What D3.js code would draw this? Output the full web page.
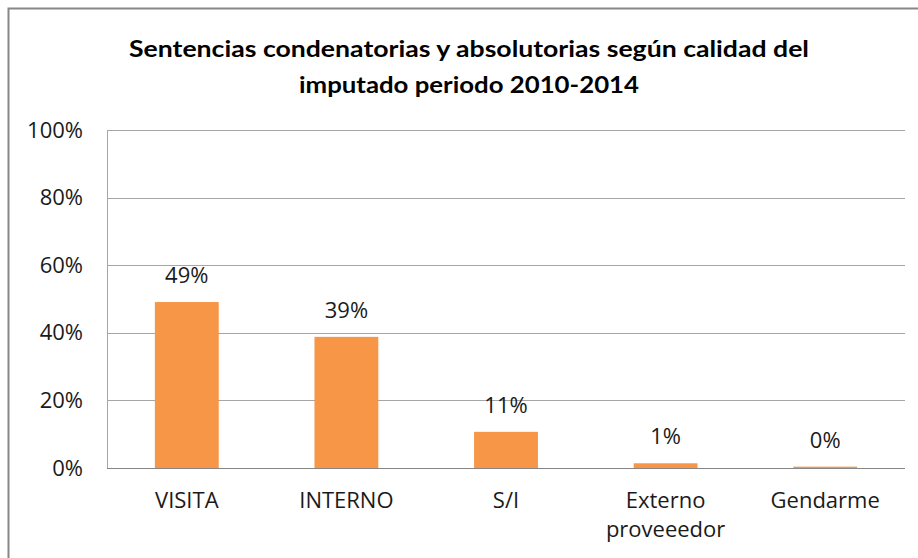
<!DOCTYPE html>
<html>
  <head>
    <meta charset="utf-8">
    <title></title>
    <script src="https://d3js.org/d3.v7.min.js"></script>
    <style type="text/css">
      body {
        margin: 0;
        background: #ffffff;
        font-family: 'Open Sans', sans-serif;
      }
      svg {
        display: block;
      }
    </style>
  </head>
  <body>
    <div class="chart"></div>
    <script type="text/javascript">
      var categories = ['VISITA', 'INTERNO', 'S/I', 'Externo proveeedor', 'Gendarme'];
      var values = [49.1, 38.8, 10.7, 1.4, 0.4];
      var yTicks = [0, 20, 40, 60, 80, 100];
      var titleLines = ['Sentencias condenatorias y absolutorias según calidad del', 'imputado periodo 2010-2014'];

      var width = 918;
      var height = 558;
      var plot = {left: 107, right: 905, top: 130, bottom: 468};
      var fontSize = 22;

      var svg = d3.select('.chart').append('svg')
        .attr('width', width)
        .attr('height', height);

      // outer chart border
      svg.append('rect')
        .attr('x', 8.5)
        .attr('y', 8.5)
        .attr('width', 920)
        .attr('height', 560)
        .attr('fill', 'none')
        .attr('stroke', '#878787')
        .attr('stroke-width', 2);

      svg.selectAll('.title')
        .data(titleLines)
        .enter()
        .append('text')
          .attr('class', 'title')
          .attr('x', 469)
          .attr('y', function(d, i){return 57 + i * 36})
          .attr('text-anchor', 'middle')
          .attr('font-family', 'Lato, sans-serif')
          .attr('font-weight', 'bold')
          .attr('font-size', 22)
          .attr('fill', '#000')
          .attr('textLength', function(d, i){return i == 0 ? 680 : 340})
          .attr('lengthAdjust', 'spacingAndGlyphs')
          .text(function(d){return d});

      var x = d3.scaleBand()
        .domain(categories)
        .range([plot.left, plot.right])
        .paddingInner(0.6)
        .paddingOuter(0.3);

      var y = d3.scaleLinear()
        .domain([0, 100])
        .range([plot.bottom, plot.top]);

      // gridlines
      svg.selectAll('.grid')
        .data(yTicks)
        .enter()
        .append('line')
          .attr('x1', plot.left)
          .attr('x2', plot.right)
          .attr('y1', function(d){return Math.round(y(d)) + 0.5})
          .attr('y2', function(d){return Math.round(y(d)) + 0.5})
          .attr('stroke', function(d){return d == 0 ? '#868686' : '#a6a6a6'})
          .attr('stroke-width', 1);

      svg.append('line')
        .attr('x1', plot.left + 0.5)
        .attr('x2', plot.left + 0.5)
        .attr('y1', plot.top)
        .attr('y2', plot.bottom)
        .attr('stroke', '#a6a6a6');

      var yAxis = svg.append('g')
        .attr('transform', 'translate(' + plot.left + ',0)')
        .call(d3.axisLeft(y).tickValues(yTicks).tickSize(0).tickPadding(24)
          .tickFormat(function(d){return d + '%'}));
      yAxis.select('.domain').remove();
      yAxis.selectAll('text')
        .attr('font-family', "'Open Sans', sans-serif")
        .attr('font-size', fontSize)
        .attr('fill', '#1a1a1a');

      svg.selectAll('.bar')
        .data(values)
        .enter()
        .append('rect')
          .attr('x', function(d, i){return x(categories[i])})
          .attr('y', function(d){return y(d)})
          .attr('width', x.bandwidth())
          .attr('height', function(d){return plot.bottom - y(d)})
          .attr('fill', '#f79646');

      svg.selectAll('.value')
        .data(values)
        .enter()
        .append('text')
          .attr('x', function(d, i){return x(categories[i]) + x.bandwidth() / 2})
          .attr('y', function(d){return y(d) - 19})
          .attr('text-anchor', 'middle')
          .attr('font-size', fontSize)
          .attr('fill', '#1a1a1a')
          .text(function(d){return Math.round(d) + '%'});

      // category labels, wrapped onto two lines where needed
      var labelGroups = svg.selectAll('.cat')
        .data(categories)
        .enter()
        .append('text')
          .attr('text-anchor', 'middle')
          .attr('font-size', fontSize)
          .attr('fill', '#1a1a1a');
      labelGroups.each(function(d) {
        var t = d3.select(this);
        var words = d.split(' ');
        var cx = x(d) + x.bandwidth() / 2;
        words.forEach(function(w, i) {
          t.append('tspan')
            .attr('x', cx)
            .attr('y', 508 + i * 29)
            .text(w);
        });
      });
    </script>
  </body>
</html>
